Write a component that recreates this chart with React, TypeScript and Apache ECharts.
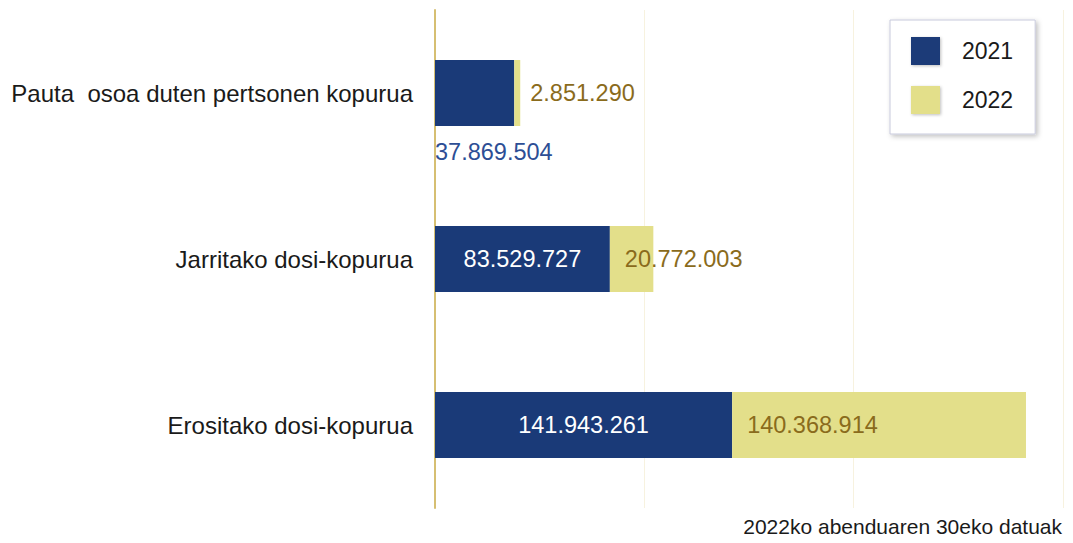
import React, { useEffect, useRef } from "react";
import * as echarts from "echarts";

const categories = [
  "Pauta  osoa duten pertsonen kopurua",
  "Jarritako dosi-kopurua",
  "Erositako dosi-kopurua",
];
const values2021 = [37869504, 83529727, 141943261];
const values2022 = [2851290, 20772003, 140368914];
const seriesNames = ["2021", "2022"];
const footerText = "2022ko abenduaren 30eko datuak";

const fmt = (v: number) => String(v).replace(/\B(?=(\d{3})+(?!\d))/g, ".");

const FONT = "'Liberation Sans', Arial, sans-serif";
const BLUE = "#1a3a78";
const YELLOW = "#e3df8a";
const GOLD_TEXT = "#8a6b1c";
const BLUE_TEXT = "#2d4e95";

export default function App() {
  const ref = useRef<HTMLDivElement>(null);
  useEffect(() => {
    if (!ref.current) return;
    const chart = echarts.init(ref.current, null, { renderer: "svg" });
    const data2021 = values2021.map((v, i) =>
      i === 0
        ? {
            value: v,
            label: {
              position: [0, 92],
              align: "left",
              verticalAlign: "middle",
              color: BLUE_TEXT,
            },
          }
        : { value: v }
    );
    const data2022 = values2022.map((v, i) =>
      i === 0
        ? { value: v, label: { position: "right", distance: 10 } }
        : { value: v, label: { position: "insideLeft", distance: 15 } }
    );
    chart.setOption({
      animation: false,
      textStyle: { fontFamily: FONT },
      grid: { left: 435, right: 10, top: 10, bottom: 35, containLabel: false },
      xAxis: {
        type: "value",
        min: 0,
        max: 300000000,
        interval: 100000000,
        axisLine: { show: false },
        axisTick: { show: false },
        axisLabel: { show: false },
        splitLine: { show: true, lineStyle: { color: "#f7f2df", width: 1 } },
      },
      yAxis: {
        type: "category",
        data: categories,
        inverse: true,
        axisLine: { show: true, lineStyle: { color: "#d6bf72", width: 2 } },
        axisTick: { show: false },
        axisLabel: {
          fontSize: 24,
          color: "#1a1a1a",
          margin: 22,
          fontFamily: FONT,
        },
      },
      legend: {
        orient: "vertical",
        left: 890,
        top: 20,
        padding: [17, 22, 20, 21],
        icon: "rect",
        itemWidth: 29,
        itemHeight: 28,
        itemGap: 21,
        itemStyle: {
          shadowBlur: 3,
          shadowColor: "rgba(0,0,0,0.25)",
          shadowOffsetX: 1,
          shadowOffsetY: 1,
        },
        backgroundColor: "#ffffff",
        borderColor: "#c8cadc",
        borderWidth: 1,
        shadowBlur: 5,
        shadowColor: "rgba(0,0,0,0.25)",
        shadowOffsetX: 2,
        shadowOffsetY: 2,
        textStyle: {
          fontSize: 23,
          color: "#1a1a1a",
          fontFamily: FONT,
          padding: [0, 0, 0, 17],
        },
        data: seriesNames,
      },
      graphic: [
        {
          type: "text",
          right: 11,
          top: 516,
          style: {
            text: footerText,
            fontSize: 21,
            fill: "#1a1a1a",
            fontFamily: FONT,
          },
        },
      ],
      series: [
        {
          name: seriesNames[0],
          type: "bar",
          stack: "total",
          barWidth: 66,
          itemStyle: { color: BLUE },
          label: {
            show: true,
            position: "inside",
            color: "#ffffff",
            fontSize: 23.5,
            fontFamily: FONT,
            formatter: (p: any) => fmt(p.value),
          },
          data: data2021,
        },
        {
          name: seriesNames[1],
          type: "bar",
          stack: "total",
          barWidth: 66,
          itemStyle: { color: YELLOW },
          label: {
            show: true,
            color: GOLD_TEXT,
            fontSize: 23.5,
            fontFamily: FONT,
            formatter: (p: any) => fmt(p.value),
          },
          data: data2022,
        },
      ],
    });
    return () => chart.dispose();
  }, []);
  return (
    <div
      ref={ref}
      style={{ position: "absolute", left: 0, top: 0, width: 1073, height: 543, background: "#fff" }}
    />
  );
}
